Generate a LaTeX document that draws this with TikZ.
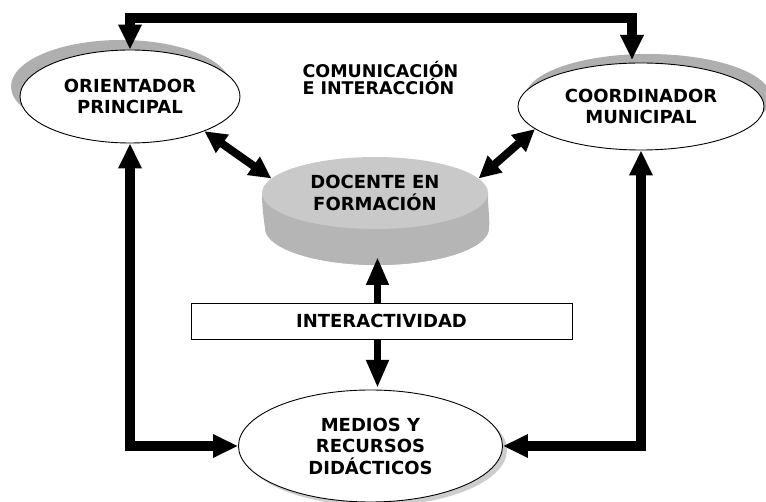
\documentclass[tikz,border=0pt]{standalone}
\usepackage{fontspec}
\setmainfont{DejaVu Sans}
\usetikzlibrary{shapes.geometric,arrows.meta,calc}
\definecolor{shadowgray}{RGB}{175,175,175}
\definecolor{shadowlight}{RGB}{205,205,205}
\definecolor{disktop}{RGB}{201,201,201}
\definecolor{diskside}{RGB}{181,181,181}
\begin{document}
\begin{tikzpicture}[x=1pt,y=-1pt,
  lbl/.style={font=\fontsize{18}{21.5}\selectfont\bfseries, align=center},
  oval/.style={ellipse, draw=black, line width=0.9pt, fill=white, inner sep=0pt, lbl},
  bigconn/.style={line width=10pt, {Triangle[width=22pt,length=25pt]}-{Triangle[width=22pt,length=25pt]}},
  diagconn/.style={line width=8pt, {Triangle[width=21pt,length=22pt]}-{Triangle[width=21pt,length=22pt]}},
  midconn/.style={line width=7pt, -{Triangle[width=21pt,length=28pt]}}]
\useasboundingbox (0,0) rectangle (766,502);
\clip (0,0) rectangle (766,502);
% shadows
\fill[shadowgray] (121,86.5) ellipse [x radius=110pt, y radius=46.5pt];
\fill[shadowgray] (648,97.5) ellipse [x radius=123pt, y radius=43.5pt];
\fill[shadowlight] (375,450) ellipse [x radius=132pt, y radius=56pt];
% disk side (extrusion of the top face)
\fill[diskside] (262,193) .. controls (262,210) and (264,220) .. (265,228) arc [start angle=180, end angle=360, x radius=112pt, y radius=37pt] .. controls (490,220) and (488,210) .. (488,193) -- cycle;
\fill[diskside] (377,228) ellipse [x radius=112pt, y radius=37pt];
% nodes
\node[oval, minimum width=220pt, minimum height=93pt] (orient) at (130,96.5) {ORIENTADOR\\PRINCIPAL};
\node[oval, minimum width=246pt, minimum height=87pt] (coord) at (641,106.5) {COORDINADOR\\MUNICIPAL};
\node[oval, minimum width=264pt, minimum height=112pt] (medios) at (370.5,446) {MEDIOS Y\\RECURSOS\\DIDÁCTICOS};
\node[ellipse, fill=disktop, minimum width=226pt, minimum height=72pt, inner sep=0pt, lbl] (docente) at (375,193) {DOCENTE EN\\FORMACIÓN};
\node[draw, line width=0.9pt, minimum width=381pt, minimum height=36pt, inner sep=0pt, lbl] (inter) at (381.5,321) {INTERACTIVIDAD};
\node[anchor=west, align=left, font=\fontsize{17.5}{17}\selectfont\bfseries] (comm) at (299,78) {COMUNICACIÓN\\E INTERACCIÓN};
% free ends
\coordinate (ctop) at (632,60);
\coordinate (dbot) at (377.5,257);
\coordinate (mtop) at (377.5,388);
% connectors
\draw[bigconn] (orient.north) -- ++(0,-32) -| (ctop);
\draw[bigconn] (orient.south) |- (medios.west);
\draw[bigconn] (coord.south) |- (medios.east);
\draw[diagconn] (orient.-25) -- (docente.172);
\draw[diagconn] (coord.192) -- (docente.8);
\draw[midconn] (inter.north -| dbot) -- (dbot);
\draw[midconn] (inter.south -| mtop) -- (mtop);
\end{tikzpicture}
\end{document}
